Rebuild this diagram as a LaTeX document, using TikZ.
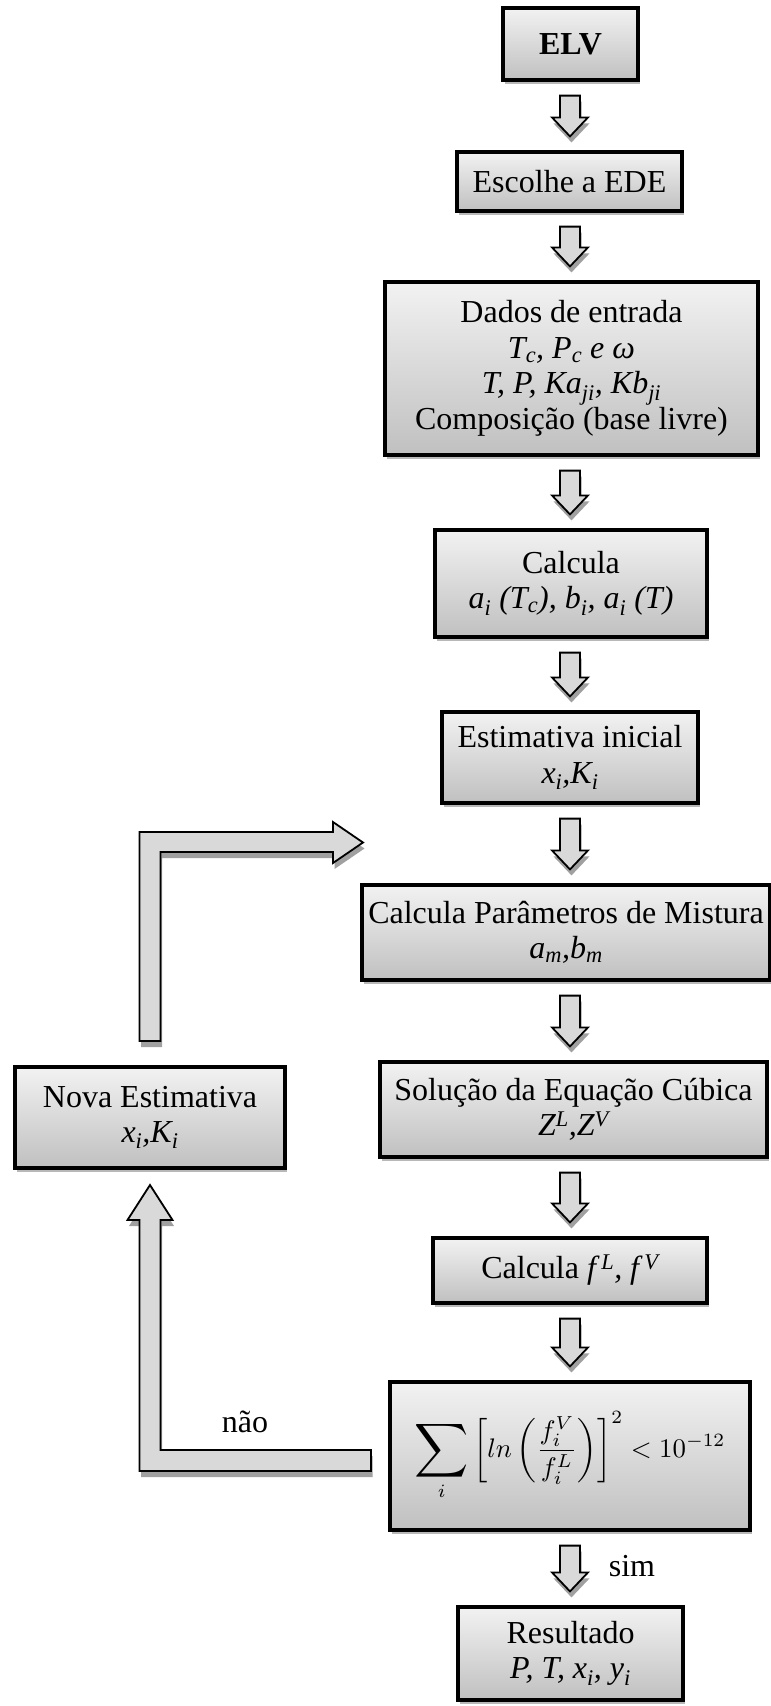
\documentclass[tikz,border=0pt]{standalone}
\usepackage{fontspec}
\usepackage{graphicx}
\usepackage{amsmath}
\setmainfont{Liberation Serif}
\usetikzlibrary{calc,shadows}
\definecolor{boxtop}{HTML}{F2F2F2}
\definecolor{boxbot}{HTML}{C0C0C0}
\definecolor{arrfill}{HTML}{D9D9D9}
\definecolor{shad}{HTML}{A0A0A0}
\definecolor{bshad}{HTML}{B8B8B8}
\newcommand\downarr[2]{%
  \path[barrow] let \p1=(#1.south), \p2=(#2.north), \p3=(col) in
    (\x3-10pt,\y1-14pt) -- (\x3+10pt,\y1-14pt) --
    (\x3+10pt,\y2+33pt) -- (\x3+18pt,\y2+33pt) --
    (\x3,\y2+14pt) -- (\x3-18pt,\y2+33pt) --
    (\x3-10pt,\y2+33pt) -- cycle;}
\begin{document}
\begin{tikzpicture}[x=1pt,y=-1pt,
  box/.style={draw=black, line width=3.2pt, top color=boxtop, bottom color=boxbot,
    align=center, inner sep=0pt, font=\fontsize{32}{35.5}\selectfont,
    drop shadow={shadow xshift=1.5pt, shadow yshift=-3.5pt, fill=bshad, opacity=1}},
  barrow/.style={draw=black, line width=1.8pt, fill=arrfill, line join=miter,
    preaction={draw=none, fill=shad, transform canvas={xshift=1.5pt, yshift=-6pt}}},
  lbl/.style={font=\fontsize{32}{36}\selectfont, inner sep=0pt}]
\useasboundingbox (0,0) rectangle (771,1706);
\coordinate (col) at (570,0);

\node[box, minimum width=135pt, minimum height=72pt] (elv) at (570.5,44) {\textbf{ELV}};
\node[box, minimum width=225pt, minimum height=59pt] (esc) at (569.5,181.5) {Escolhe a EDE};
\node[box, minimum width=373pt, minimum height=173pt] (dados) at (571.5,368.5)
  {Dados de entrada\\ \textit{T\textsubscript{c}, P\textsubscript{c} e ω}\\
   \textit{T, P, Ka\textsubscript{ji}, Kb\textsubscript{ji}}\\ Composição (base livre)};
\node[box, minimum width=272pt, minimum height=107pt] (calc) at (571,583.5)
  {Calcula\\ \textit{a\textsubscript{i} (T\textsubscript{c}), b\textsubscript{i}, a\textsubscript{i} (T)}};
\node[box, minimum width=256pt, minimum height=91pt] (est) at (570,757.5)
  {Estimativa inicial\\ \textit{x\textsubscript{i},K\textsubscript{i}}};
\node[box, minimum width=408pt, minimum height=95pt] (param) at (566,932.5)
  {Calcula Parâmetros de Mistura\\ \textit{a\textsubscript{m},b\textsubscript{m}}};
\node[box, minimum width=387pt, minimum height=95pt] (sol) at (573.5,1109.5)
  {Solução da Equação Cúbica\\ \textit{Z\textsuperscript{L},Z\textsuperscript{V}}};
\node[box, minimum width=274pt, minimum height=65pt] (calcf) at (570,1270.5)
  {Calcula \textit{f\,\textsuperscript{L}, f\,\textsuperscript{V}}};
\node[box, minimum width=360pt, minimum height=148pt] (cond) at (570,1456)
  {\raisebox{-4pt}{\resizebox{311pt}{!}{\fontsize{10}{12}\selectfont$\displaystyle\mathop{\vcenter{\hbox{\scalebox{1.4}{$\displaystyle\sum$}}}}\limits_{i}\left[ln\left(\frac{f_i^{V}}{f_i^{L}}\right)\right]^2<10^{-12}$}}};
\node[box, minimum width=225pt, minimum height=93pt] (res) at (570.5,1653.5)
  {Resultado\\ \textit{P, T, x\textsubscript{i}, y\textsubscript{i}}};
\node[box, minimum width=270pt, minimum height=101pt] (nova) at (150,1117.5)
  {Nova Estimativa\\ \textit{x\textsubscript{i},K\textsubscript{i}}};

\downarr{elv}{esc}
\downarr{esc}{dados}
\downarr{dados}{calc}
\downarr{calc}{est}
\downarr{est}{param}
\downarr{param}{sol}
\downarr{sol}{calcf}
\downarr{calcf}{cond}
\downarr{cond}{res}

% loop: condition -> Nova Estimativa
\path[barrow] (371,1450) -- (160.5,1450) -- (160.5,1220) -- (172.5,1220) -- (150,1185)
  -- (127.5,1220) -- (139.5,1220) -- (139.5,1471) -- (371,1471) -- cycle;
% loop: Nova Estimativa -> back into the column
\path[barrow] (139.5,1041) -- (139.5,832) -- (333,832) -- (333,822) -- (363,842.5)
  -- (333,863) -- (333,852) -- (160.5,852) -- (160.5,1041) -- cycle;

\node[lbl] (nao) at (245,1422) {não};
\node[lbl] (sim) at (632,1566) {sim};
\end{tikzpicture}
\end{document}
